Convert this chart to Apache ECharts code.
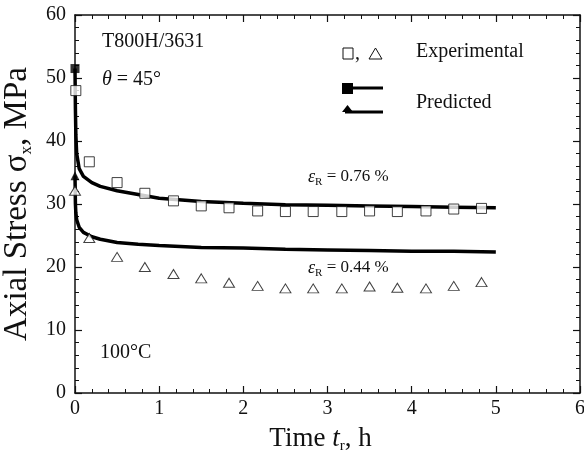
<!DOCTYPE html>
<html>
<head>
<meta charset="utf-8">
<script src="https://cdn.jsdelivr.net/npm/echarts@6/dist/echarts.min.js"></script>
<style>
  html, body { margin: 0; padding: 0; background: #fff; }
  #chart { width: 584px; height: 455px; }
</style>
</head>
<body>
<div id="chart"></div>
<script>
// experimental points, eps_R = 0.76 % (open squares)
const sqX = [0.01, 0.17, 0.5, 0.83, 1.17, 1.5, 1.83, 2.17, 2.5, 2.83, 3.17, 3.5, 3.83, 4.17, 4.5, 4.83]
const sqY = [48.0, 36.7, 33.4, 31.7, 30.5, 29.7, 29.4, 28.9, 28.8, 28.8, 28.8, 28.9, 28.8, 28.9, 29.2, 29.3]
// experimental points, eps_R = 0.44 % (open triangles)
const triX = [0.0, 0.17, 0.5, 0.83, 1.17, 1.5, 1.83, 2.17, 2.5, 2.83, 3.17, 3.5, 3.83, 4.17, 4.5, 4.83]
const triY = [32.1, 24.6, 21.6, 20.0, 18.9, 18.2, 17.5, 17.0, 16.6, 16.6, 16.6, 16.9, 16.7, 16.6, 17.0, 17.6]
// predicted curves
const predX = [0, 0.005, 0.01, 0.02, 0.05, 0.1, 0.2, 0.3, 0.5, 0.75, 1, 1.5, 2, 2.5, 3, 3.5, 4, 4.5, 5]
const upperY = [51.5, 45, 41, 38, 35.6, 34.4, 33.4, 32.8, 32.1, 31.5, 30.9, 30.4, 30.1, 29.9, 29.8, 29.7, 29.6, 29.5, 29.4]
const lowerY = [34.5, 30, 28.6, 27.5, 26.3, 25.5, 24.8, 24.4, 23.9, 23.6, 23.4, 23.1, 23.0, 22.8, 22.7, 22.6, 22.5, 22.5, 22.4]
const xTicks = [0, 1, 2, 3, 4, 5, 6]
const yTicks = [0, 10, 20, 30, 40, 50, 60]

const font = '"Liberation Serif", "DejaVu Serif", serif'
const pair = (xs, ys) => xs.map((x, i) => [x, ys[i]])

const chart = echarts.init(document.getElementById('chart'))

const axisCommon = {
    axisLine: { onZero: false, lineStyle: { color: '#111', width: 1.5 } },
    axisTick: { inside: true, length: 7, lineStyle: { color: '#111', width: 1.2 } },
    minorTick: { show: true, splitNumber: 5, length: 4, lineStyle: { color: '#111', width: 1 } },
    splitLine: { show: false }
}

chart.setOption({
    animation: false,
    backgroundColor: '#fff',
    textStyle: { fontFamily: font },
    grid: { left: 75, right: 4, top: 15, bottom: 62, containLabel: false, outerBoundsMode: 'none' },
    xAxis: [{
        type: 'value',
        min: xTicks[0],
        max: xTicks[xTicks.length - 1],
        interval: 1,
        ...axisCommon,
        axisLabel: { color: '#111', fontSize: 20, fontFamily: font, margin: 6 },
        name: '{n|Time }{i|t}{s|r}{n|, h}',
        nameLocation: 'middle',
        nameGap: 31,
        nameTextStyle: {
            padding: [0, 14, 0, 0],
            rich: {
                n: { fontSize: 27, fontFamily: font, color: '#111' },
                i: { fontSize: 27, fontFamily: font, fontStyle: 'italic', color: '#111' },
                s: { fontSize: 15, fontFamily: font, color: '#111', verticalAlign: 'bottom', padding: [15, 0, 0, 0] }
            }
        }
    }, {
        type: 'value',
        position: 'top',
        min: 0,
        max: 6,
        interval: 1,
        ...axisCommon,
        axisLabel: { show: false }
    }],
    yAxis: [{
        type: 'value',
        min: yTicks[0],
        max: yTicks[yTicks.length - 1],
        interval: 10,
        ...axisCommon,
        axisLabel: { color: '#111', fontSize: 20, fontFamily: font, margin: 9 },
        name: '{n|Axial Stress }{g|σ}{s|x}{n|, MPa}',
        nameLocation: 'middle',
        nameRotate: 90,
        nameGap: 39,
        nameTextStyle: {
            padding: [0, 0, 0, 0],
            rich: {
                n: { fontSize: 33, fontFamily: font, color: '#111' },
                g: { fontSize: 33, fontFamily: font, color: '#111' },
                s: { fontSize: 17, fontFamily: font, color: '#111', verticalAlign: 'bottom', padding: [18, 0, 0, 0] }
            }
        }
    }, {
        type: 'value',
        position: 'right',
        min: 0,
        max: 60,
        interval: 10,
        ...axisCommon,
        axisLabel: { show: false }
    }],
    series: [{
        name: 'Predicted 0.76',
        type: 'line',
        data: pair(predX, upperY),
        showSymbol: false,
        lineStyle: { color: '#000', width: 3.5 },
        z: 3
    }, {
        name: 'Predicted 0.44',
        type: 'line',
        data: pair(predX, lowerY),
        showSymbol: false,
        lineStyle: { color: '#000', width: 3.5 },
        z: 3
    }, {
        name: 'Predicted start 0.76',
        type: 'scatter',
        data: [[predX[0], upperY[0]]],
        symbol: 'rect',
        symbolSize: 9,
        itemStyle: { color: '#000' },
        clip: false,
        z: 5
    }, {
        name: 'Predicted start 0.44',
        type: 'scatter',
        data: [[predX[0], lowerY[0]]],
        symbol: 'triangle',
        symbolSize: [9, 9],
        itemStyle: { color: '#000' },
        clip: false,
        z: 5
    }, {
        name: 'Experimental 0.76',
        type: 'scatter',
        data: pair(sqX, sqY),
        symbol: 'rect',
        symbolSize: 10,
        itemStyle: { color: '#fff', borderColor: '#111', borderWidth: 1 },
        clip: false,
        z: 4
    }, {
        name: 'Experimental 0.44',
        type: 'scatter',
        data: pair(triX, triY),
        symbol: 'triangle',
        symbolSize: [11, 9],
        itemStyle: { color: '#fff', borderColor: '#111', borderWidth: 1 },
        clip: false,
        z: 4
    }],
    graphic: [
        { type: 'text', left: 102, top: 32, style: { text: 'T800H/3631', font: '20px ' + font, fill: '#111' } },
        {
            type: 'text', left: 102, top: 70,
            style: {
                text: '{i|θ} = 45°',
                font: '20px ' + font,
                fill: '#111',
                rich: { i: { font: 'italic 20px ' + font, fill: '#111' } }
            }
        },
        { type: 'text', left: 100, top: 343, style: { text: '100°C', font: '20px ' + font, fill: '#111' } },
        {
            type: 'text', left: 308, top: 168,
            style: {
                text: '{e|ε}{s|R} = 0.76 %',
                font: '17px ' + font,
                fill: '#111',
                rich: {
                    e: { font: 'italic 18px ' + font, fill: '#111' },
                    s: { font: '11px ' + font, fill: '#111', verticalAlign: 'bottom', padding: [10, 0, 0, 0] }
                }
            }
        },
        {
            type: 'text', left: 308, top: 259,
            style: {
                text: '{e|ε}{s|R} = 0.44 %',
                font: '17px ' + font,
                fill: '#111',
                rich: {
                    e: { font: 'italic 18px ' + font, fill: '#111' },
                    s: { font: '11px ' + font, fill: '#111', verticalAlign: 'bottom', padding: [10, 0, 0, 0] }
                }
            }
        },
        // legend
        { type: 'rect', shape: { x: 343, y: 48, width: 10, height: 11 }, style: { fill: '#fff', stroke: '#111', lineWidth: 1 } },
        { type: 'text', left: 355, top: 44, style: { text: ',', font: '20px ' + font, fill: '#111' } },
        { type: 'polygon', shape: { points: [[369, 59], [375.5, 48], [382, 59]] }, style: { fill: '#fff', stroke: '#111', lineWidth: 1 } },
        { type: 'text', left: 416, top: 42, style: { text: 'Experimental', font: '20px ' + font, fill: '#111' } },
        { type: 'rect', shape: { x: 342, y: 83, width: 11, height: 11 }, style: { fill: '#000' } },
        { type: 'line', shape: { x1: 350, y1: 88, x2: 383, y2: 88 }, style: { stroke: '#000', lineWidth: 3 } },
        { type: 'polygon', shape: { points: [[342, 112], [347.5, 105], [353, 112]] }, style: { fill: '#000' } },
        { type: 'line', shape: { x1: 345, y1: 112, x2: 383, y2: 112 }, style: { stroke: '#000', lineWidth: 3 } },
        { type: 'text', left: 416, top: 93, style: { text: 'Predicted', font: '20px ' + font, fill: '#111' } }
    ]
})
</script>
</body>
</html>
